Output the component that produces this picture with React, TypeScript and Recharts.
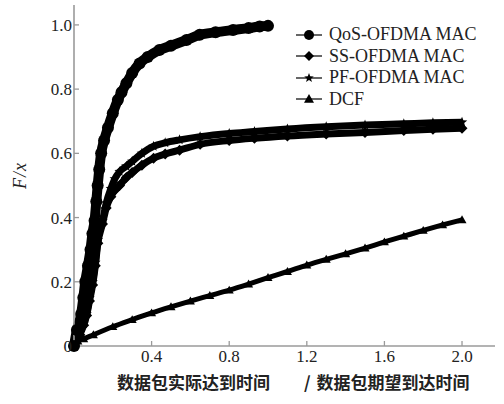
import React from 'react';
import { LineChart, Line, XAxis, YAxis, Legend, Label } from 'recharts';

const xTicks = [0.4, 0.8, 1.2, 1.6, 2.0];
const yTicks = [0, 0.2, 0.4, 0.6, 0.8, 1.0];
const seriesNames = ['QoS-OFDMA MAC', 'SS-OFDMA MAC', 'PF-OFDMA MAC', 'DCF'];
const xLabelParts = ['数据包实际达到时间', '/', '数据包期望到达时间'];
const yLabelParts = ['F', '/', 'x'];

const qosPts: [number, number][] = [
  [0, 0], [0.015, 0.05], [0.037, 0.1], [0.048, 0.15], [0.058, 0.2], [0.072, 0.25], [0.085, 0.3],
  [0.095, 0.35], [0.106, 0.39], [0.115, 0.45], [0.122, 0.5], [0.13, 0.55], [0.14, 0.6],
  [0.155, 0.64], [0.175, 0.68], [0.2, 0.725], [0.226, 0.766], [0.245, 0.79], [0.27, 0.818],
  [0.3, 0.85], [0.338, 0.88], [0.38, 0.9], [0.44, 0.922], [0.5, 0.935], [0.58, 0.953],
  [0.648, 0.969], [0.73, 0.977], [0.82, 0.984], [0.9, 0.99], [0.957, 0.995], [1.0, 0.997],
];
const pfPts: [number, number][] = [
  [0, 0], [0.03, 0.04], [0.05, 0.07], [0.065, 0.1], [0.08, 0.15], [0.096, 0.2], [0.11, 0.26],
  [0.123, 0.33], [0.147, 0.39], [0.166, 0.445], [0.19, 0.49], [0.21, 0.52], [0.235, 0.543],
  [0.27, 0.56], [0.3, 0.575], [0.35, 0.6], [0.41, 0.622], [0.47, 0.633], [0.544, 0.642],
  [0.65, 0.652], [0.8, 0.662], [0.93, 0.668], [1.1, 0.676], [1.3, 0.683], [1.5, 0.688],
  [1.7, 0.692], [1.85, 0.695], [2.0, 0.697],
];
const ssPts: [number, number][] = [
  [0, 0], [0.03, 0.035], [0.05, 0.065], [0.065, 0.095], [0.08, 0.14], [0.096, 0.19], [0.11, 0.25],
  [0.123, 0.32], [0.147, 0.38], [0.166, 0.43], [0.19, 0.465], [0.21, 0.485], [0.235, 0.5],
  [0.27, 0.525], [0.3, 0.54], [0.35, 0.563], [0.41, 0.585], [0.47, 0.598], [0.544, 0.61],
  [0.65, 0.628], [0.8, 0.64], [0.93, 0.647], [1.1, 0.654], [1.3, 0.66], [1.5, 0.665],
  [1.7, 0.671], [1.85, 0.675], [2.0, 0.678],
];
const dcfPts: [number, number][] = [
  [0, 0], [0.02, 0.015], [0.05, 0.022], [0.1, 0.035], [0.2, 0.06], [0.3, 0.082], [0.4, 0.103],
  [0.5, 0.122], [0.6, 0.14], [0.7, 0.157], [0.8, 0.174], [0.9, 0.193], [1.0, 0.213], [1.1, 0.232],
  [1.2, 0.252], [1.3, 0.27], [1.4, 0.287], [1.5, 0.305], [1.6, 0.324], [1.7, 0.342], [1.8, 0.36],
  [1.9, 0.377], [2.0, 0.393],
];

const toRows = (pts: [number, number][]) => pts.map(([x, y]) => ({ x, y }));

const SERIF = "Liberation Serif";
const CJK = "Noto Sans CJK SC";
const AXIS = '#9a9a9a';

type Shape = 'circle' | 'diamond' | 'star' | 'triangle';

function marker(shape: Shape, cx: number, cy: number, s: number, key?: string | number) {
  if (shape === 'circle') return <circle key={key} cx={cx} cy={cy} r={s} fill="#000" />;
  if (shape === 'diamond')
    return <polygon key={key} points={`${cx},${cy - s} ${cx + s},${cy} ${cx},${cy + s} ${cx - s},${cy}`} fill="#000" />;
  if (shape === 'triangle')
    return <polygon key={key} points={`${cx},${cy - s} ${cx + s},${cy + s * 0.75} ${cx - s},${cy + s * 0.75}`} fill="#000" />;
  const p: string[] = [];
  for (let i = 0; i < 10; i++) {
    const r = i % 2 === 0 ? s : s * 0.42;
    const a = -Math.PI / 2 + (i * Math.PI) / 5;
    p.push(`${cx + r * Math.cos(a)},${cy + r * Math.sin(a)}`);
  }
  return <polygon key={key} points={p.join(' ')} fill="#000" />;
}

const makeDot = (shape: Shape, s: number) => (props: any) => {
  const { cx, cy, index } = props;
  if (cx == null || cy == null) return <g key={index} />;
  return marker(shape, cx, cy, s, index);
};

const shapes: Shape[] = ['circle', 'diamond', 'star', 'triangle'];

const renderLegend = () => (
  <div style={{ fontFamily: SERIF, fontSize: 18, color: '#222', lineHeight: '21.5px' }}>
    {seriesNames.map((n, i) => (
      <div key={n} style={{ display: 'flex', alignItems: 'center', height: 21.5 }}>
        <svg width={33} height={20} style={{ display: 'block' }}>
          <line x1={0} y1={10} x2={26} y2={10} stroke="#333" strokeWidth={1.5} />
          {marker(shapes[i], 13, 10, 5)}
        </svg>
        <span>{n}</span>
      </div>
    ))}
  </div>
);

const XTick = (props: any) => {
  const { x, y, payload } = props;
  return (
    <text x={x} y={y} dy={12} textAnchor="middle" style={{ fontFamily: SERIF, fontSize: 17, fill: '#222' }}>
      {Number(payload.value).toFixed(1)}
    </text>
  );
};

const YTick = (props: any) => {
  const { x, y, payload } = props;
  const v = Number(payload.value);
  return (
    <text x={x} y={y} dy={6} textAnchor="end" style={{ fontFamily: SERIF, fontSize: 17, fill: '#222' }}>
      {v === 0 ? '0' : v.toFixed(1)}
    </text>
  );
};

const xLabelContent = () => (
  <text x={117} y={389} style={{ fontFamily: CJK, fontSize: 17, fontWeight: 700, fill: '#222' }}>
    <tspan>{xLabelParts[0]}</tspan>
    <tspan dx={34}>{xLabelParts[1]}</tspan>
    <tspan dx={6}>{xLabelParts[2]}</tspan>
  </text>
);

const yLabelContent = () => (
  <text
    x={20}
    y={176}
    textAnchor="middle"
    transform="rotate(-90 20 176)"
    dy={6}
    style={{ fontFamily: SERIF, fontStyle: 'italic', fontSize: 18, fill: '#222' }}
  >
    <tspan>{yLabelParts[0]}</tspan>
    <tspan dx={1}>{yLabelParts[1]}</tspan>
    <tspan dx={1}>{yLabelParts[2]}</tspan>
  </text>
);

export default function App() {
  return (
    <div style={{ position: 'absolute', left: 0, top: 0, width: 504, height: 404, background: '#fff' }}>
      <LineChart width={504} height={404} margin={{ top: 5, right: 9, left: 0, bottom: 0 }}>
        <XAxis
          dataKey="x"
          type="number"
          domain={[0, 2.17]}
          ticks={xTicks}
          height={58}
          axisLine={{ stroke: AXIS, strokeWidth: 1.6 }}
          tickLine={{ stroke: AXIS, strokeWidth: 1.3 }}
          tickSize={-5}
          tickMargin={9}
          tick={<XTick />}
        >
          <Label content={xLabelContent} />
        </XAxis>
        <YAxis
          type="number"
          domain={[0, 1.062]}
          ticks={yTicks}
          width={74}
          axisLine={{ stroke: AXIS, strokeWidth: 1.6 }}
          tickLine={{ stroke: AXIS, strokeWidth: 1.3 }}
          tickSize={-5}
          tickMargin={7}
          tick={<YTick />}
        >
          <Label content={yLabelContent} />
        </YAxis>
        <Legend
          content={renderLegend}
          layout="vertical"
          align="center"
          verticalAlign="middle"
          wrapperStyle={{ left: 296, top: 24, width: 205 }}
        />
        <Line data={toRows(dcfPts)} dataKey="y" name={seriesNames[3]} type="monotoneX" stroke="#000" strokeWidth={5} dot={makeDot('triangle', 4.5)} isAnimationActive={false} />
        <Line data={toRows(ssPts)} dataKey="y" name={seriesNames[1]} type="monotoneX" stroke="#000" strokeWidth={7} dot={makeDot('diamond', 5.5)} isAnimationActive={false} />
        <Line data={toRows(pfPts)} dataKey="y" name={seriesNames[2]} type="monotoneX" stroke="#000" strokeWidth={7} dot={makeDot('star', 5.5)} isAnimationActive={false} />
        <Line data={toRows(qosPts)} dataKey="y" name={seriesNames[0]} type="monotoneX" stroke="#000" strokeWidth={10} dot={makeDot('circle', 6)} isAnimationActive={false} />
      </LineChart>
    </div>
  );
}
